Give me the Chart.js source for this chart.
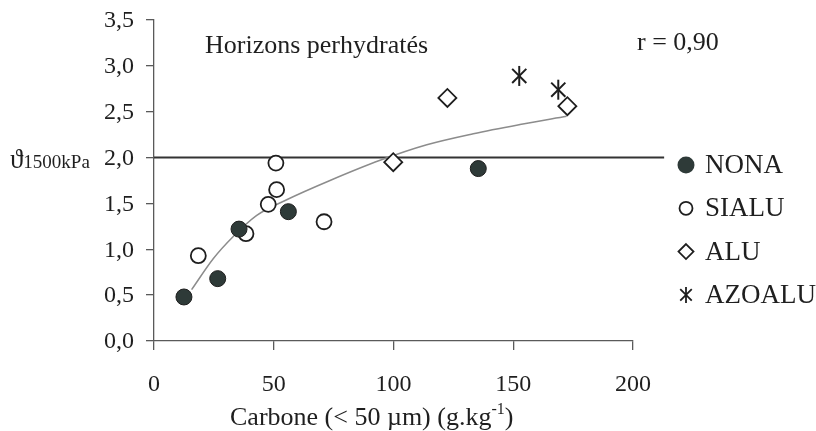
<!DOCTYPE html>
<html>
<head>
<meta charset="utf-8">
<script src="https://cdn.jsdelivr.net/npm/chart.js@4.4.1/dist/chart.umd.min.js"></script>
<style>
  html, body { margin: 0; padding: 0; background: #fff; }
  #wrap { width: 816px; height: 431px; }
</style>
</head>
<body>
<div id="wrap"><canvas id="waterChart"></canvas></div>
<script>
// Carbon (< 50 µm, g/kg) against water content at 1500 kPa, by horizon group
const nonaCarbon = [12.5, 26.6, 35.5, 56.1, 135.4];
const nonaWater = [0.48, 0.68, 1.22, 1.41, 1.88];
const sialuCarbon = [18.5, 38.4, 47.7, 51.2, 50.9, 71.0];
const sialuWater = [0.93, 1.17, 1.49, 1.65, 1.94, 1.30];
const aluCarbon = [99.9, 122.5, 172.6];
const aluWater = [1.95, 2.65, 2.56];
const azoCarbon = [152.5, 168.8];
const azoWater = [2.89, 2.74];

// fitted curve, taken along its path
const fitCarbon = [15.7, 24.8, 33.1, 42.9, 55.4, 73.5, 94.4, 113.9, 133.3, 152.8, 172.3];
const fitWater = [0.56, 0.90, 1.14, 1.37, 1.54, 1.75, 1.97, 2.14, 2.26, 2.36, 2.45];

// reference line at 2.0, it runs on past the end of the axis
const refCarbon = [0, 213];
const refWater = [2.0, 2.0];

const groupLabels = ['NONA', 'SIALU', 'ALU', 'AZOALU'];
const xTickLabels = ['0', '50', '100', '150', '200'];
const yTickValues = [0, 0.5, 1, 1.5, 2, 2.5, 3, 3.5];
const yTickLabels = ['0,0', '0,5', '1,0', '1,5', '2,0', '2,5', '3,0', '3,5'];

const serif = "'Liberation Serif', 'Times New Roman', serif";
const ink = '#1f1f1f';
const axisGrey = '#5a5a5a';
const darkFill = '#2e3a38';

function toPoints(xs, ys) {
    return xs.map((v, i) => ({ x: v, y: ys[i] }));
}

function markers(label, pts, style, radius, fill, width, rotation) {
    return {
        label: label,
        data: pts,
        pointStyle: style,
        pointRotation: rotation || 0,
        pointRadius: radius,
        pointBackgroundColor: fill,
        pointBorderColor: '#1e1e1e',
        pointBorderWidth: width,
        showLine: false,
        order: 0
    };
}

const datasets = [
    markers('NONA', toPoints(nonaCarbon, nonaWater), 'circle', 8, darkFill, 1),
    markers('SIALU', toPoints(sialuCarbon, sialuWater), 'circle', 7.5, '#ffffff', 1.8),
    markers('ALU', toPoints(aluCarbon, aluWater), 'rectRot', 9, '#ffffff', 1.8),
    // asterisk = vertical stroke + X on the same points
    markers('AZOALU', toPoints(azoCarbon, azoWater), 'line', 10, '#ffffff', 2, 90),
    markers('AZOALU x', toPoints(azoCarbon, azoWater), 'crossRot', 10, '#ffffff', 2),
    {
        label: 'fit',
        data: toPoints(fitCarbon, fitWater),
        showLine: true,
        pointRadius: 0,
        borderColor: '#8c8c8c',
        borderWidth: 1.5,
        cubicInterpolationMode: 'monotone',
        order: 5
    },
    {
        label: 'ref',
        data: toPoints(refCarbon, refWater),
        showLine: true,
        pointRadius: 0,
        borderColor: '#333333',
        borderWidth: 2,
        clip: false,
        order: 6
    }
];

// small legend symbols
function legendMark(ctx, kind, x, y) {
    ctx.save();
    ctx.strokeStyle = '#1e1e1e';
    ctx.lineWidth = 1.8;
    ctx.beginPath();
    if (kind === 0) {
        ctx.fillStyle = darkFill;
        ctx.arc(x, y, 8.5, 0, Math.PI * 2);
        ctx.fill();
    } else if (kind === 1) {
        ctx.fillStyle = '#ffffff';
        ctx.arc(x, y, 6.5, 0, Math.PI * 2);
        ctx.fill();
        ctx.stroke();
    } else if (kind === 2) {
        ctx.fillStyle = '#ffffff';
        ctx.moveTo(x, y - 7.5); ctx.lineTo(x + 7.5, y);
        ctx.lineTo(x, y + 7.5); ctx.lineTo(x - 7.5, y);
        ctx.closePath();
        ctx.fill();
        ctx.stroke();
    } else {
        const r = 8, d = r * 0.72;
        ctx.moveTo(x, y - r); ctx.lineTo(x, y + r);
        ctx.moveTo(x - d, y - d); ctx.lineTo(x + d, y + d);
        ctx.moveTo(x + d, y - d); ctx.lineTo(x - d, y + d);
        ctx.stroke();
    }
    ctx.restore();
}

// tick labels of the value axis, texts, axis titles and the legend column
const extras = {
    id: 'extras',
    afterDraw(chart) {
        const { ctx, chartArea: a, scales: { y } } = chart;
        ctx.save();

        // value axis labels, right aligned against the tick marks
        ctx.fillStyle = ink;
        ctx.font = '24px ' + serif;
        ctx.textAlign = 'right';
        ctx.textBaseline = 'middle';
        yTickValues.forEach((v, i) => {
            ctx.fillText(yTickLabels[i], y.right - 20, y.getPixelForValue(v) + 1);
        });

        ctx.textAlign = 'left';
        ctx.textBaseline = 'alphabetic';

        ctx.font = '26px ' + serif;
        ctx.fillText('Horizons perhydratés', a.left + 51, a.top + 33);
        ctx.fillText('r = 0,90', a.right + 4, a.top + 30);

        // y title: theta with subscript, level with the 2,0 tick
        const yBase = y.getPixelForValue(2.0) + 10;
        ctx.font = '27px ' + serif;
        ctx.fillText('\u03D1', 10, yBase);
        const tw = ctx.measureText('\u03D1').width;
        ctx.font = '19px ' + serif;
        ctx.fillText('1500kPa', 10 + tw, yBase);

        // x title with superscript
        let tx = a.left + 76;
        const tb = a.bottom + 84;
        ctx.font = '26px ' + serif;
        const t1 = 'Carbone (< 50 \u00B5m) (g.kg';
        ctx.fillText(t1, tx, tb);
        tx += ctx.measureText(t1).width;
        ctx.font = '16px ' + serif;
        ctx.fillText('-1', tx, tb - 11);
        tx += ctx.measureText('-1').width;
        ctx.font = '26px ' + serif;
        ctx.fillText(')', tx, tb);

        // legend
        ctx.textBaseline = 'middle';
        ctx.font = '27px ' + serif;
        groupLabels.forEach((name, i) => {
            const ly = a.top + 145 + i * 43.3;
            legendMark(ctx, i, a.right + 53, ly);
            ctx.fillStyle = ink;
            ctx.fillText(name, a.right + 72, ly + 1);
        });
        ctx.restore();
    }
};

window.onload = function() {
    const ctx = document.getElementById('waterChart').getContext('2d');
    new Chart(ctx, {
        type: 'scatter',
        data: { datasets: datasets },
        options: {
            responsive: true,
            maintainAspectRatio: false,
            animation: false,
            layout: { padding: { top: 20, right: 183, bottom: 0, left: 0 } },
            plugins: {
                legend: { display: false },
                tooltip: { enabled: false }
            },
            scales: {
                x: {
                    type: 'linear',
                    min: 0,
                    max: 200,
                    afterFit: (scale) => { scale.height = 90; },
                    ticks: {
                        stepSize: 50,
                        color: ink,
                        padding: 20,
                        font: { family: serif, size: 24 },
                        callback: (v) => xTickLabels[Math.round(v / 50)]
                    },
                    grid: { drawOnChartArea: false, drawTicks: true, tickLength: 9, color: axisGrey, lineWidth: 1.3 },
                    border: { display: true, color: axisGrey, width: 1.3 }
                },
                y: {
                    type: 'linear',
                    min: 0,
                    max: 3.5,
                    afterFit: (scale) => { scale.width = 154; },
                    ticks: {
                        stepSize: 0.5,
                        autoSkip: false,
                        display: false
                    },
                    grid: { drawOnChartArea: false, drawTicks: true, tickLength: 8, color: axisGrey, lineWidth: 1.3 },
                    border: { display: true, color: axisGrey, width: 1.3 }
                }
            }
        },
        plugins: [extras]
    });
};
</script>
</body>
</html>
